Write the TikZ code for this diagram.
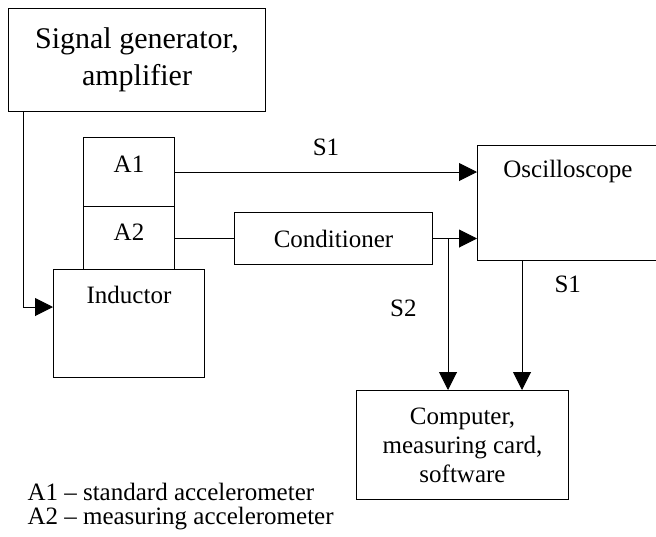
\documentclass[tikz,border=0pt]{standalone}
\usepackage{fontspec}
\setmainfont{Liberation Serif}
\usetikzlibrary{arrows.meta}
\begin{document}
\begin{tikzpicture}[x=1pt,y=-1pt,line width=1pt,
    every node/.style={font=\fontsize{25}{29}\selectfont},
    blk/.style={draw,inner sep=0pt,anchor=north west},
    sig/.style={inner sep=0pt},
    >={Triangle[length=18pt,width=18pt]}]
  \useasboundingbox (0,0) rectangle (656,536);
  % blocks
  \node[blk,align=center,minimum width=257pt,minimum height=103pt,
    font=\fontsize{30}{37}\selectfont] (gen) at (8,8) {Signal generator,\\amplifier};
  \node[blk,minimum width=91pt,text height=35pt,text depth=34pt] (a1) at (83,137) {A1};
  \node[blk,minimum width=91pt,text height=34pt,text depth=29pt] (a2) at (83,206) {A2};
  \node[blk,minimum width=151pt,text height=34pt,text depth=74pt] (ind) at (53,269) {Inductor};
  \node[blk,minimum width=198pt,text height=35pt,text depth=17pt] (cond) at (234,212) {Conditioner};
  \node[blk,minimum width=181pt,text height=32pt,text depth=83pt] (osc) at (477,145) {Oscilloscope};
  \node[blk,align=center,minimum width=212pt,minimum height=109pt] (pc) at (356,390)
    {Computer,\\measuring card,\\software};
  % legend
  \node[sig,anchor=base west] (leg1) at (27,500) {A1 -- standard accelerometer};
  \node[sig,anchor=base west] (leg2) at (27,524) {A2 -- measuring accelerometer};
  % connections
  \coordinate (tap) at ([xshift=15pt]cond.east);
  \coordinate (osc out) at ([xshift=45pt]osc.south west);
  \begin{scope}[->]
    \draw ([xshift=15pt]gen.south west) |- ([yshift=-38pt]ind.north west);
    \draw (a1.east) -- (a1.east -| osc.west) node[sig,midway,above=16pt] (s1a) {S1};
    \draw (cond.east) -- (cond.east -| osc.west);
    \draw (tap) -- (tap |- pc.north) node[sig,pos=0.46,left=31pt] (s2) {S2};
    \draw (osc out) -- (osc out |- pc.north) node[sig,pos=0.18,right=32pt] (s1b) {S1};
  \end{scope}
  \draw (a2.east) -- (a2.east -| cond.west);
\end{tikzpicture}
\end{document}
